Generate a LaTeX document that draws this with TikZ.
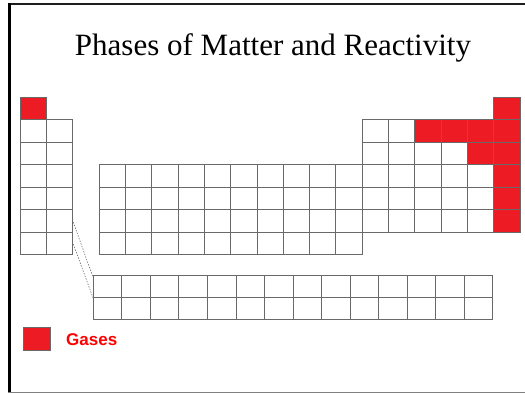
\documentclass[tikz,border=0pt]{standalone}
\usepackage{fontspec}
\setmainfont{Liberation Serif}
\newfontfamily\arialfont{Liberation Sans}
\definecolor{cellgray}{RGB}{105,105,105}
\definecolor{gasred}{RGB}{237,28,36}
\definecolor{textred}{RGB}{255,0,0}
\definecolor{framedark}{RGB}{30,30,30}
\tikzset{
  cellbox/.style={draw=cellgray, line width=0.9pt, fill=white},
  gasbox/.style={draw=cellgray, line width=0.9pt, fill=gasred},
  guide/.style={draw=cellgray, line width=0.6pt, dash pattern=on 1.4pt off 1.4pt},
  titletext/.style={font=\fontsize{31}{36}\selectfont, anchor=base, inner sep=0pt},
  legendtext/.style={font=\arialfont\bfseries\fontsize{17}{20}\selectfont, text=textred, anchor=base west, inner sep=0pt}
}
\begin{document}
\begin{tikzpicture}[x=1pt,y=-1pt]
\useasboundingbox (0,0) rectangle (525,393);
% slide frame
\draw[framedark, line width=2.5pt] (8,4) -- (525,4);
\draw[black, line width=3pt] (9.5,3) -- (9.5,393);
\draw[gray, line width=1pt] (8,392) -- (525,392);
% title
\node[titletext] (title) at (273,55.7) {Phases of Matter and Reactivity};
\def\W{26.3}
\def\H{22.5}
% white cells: position/row
\foreach \r in {2,...,7} {
  \foreach \p in {1,2} {
    \draw[cellbox] ({20.3+(\p-1)*\W},{97.3+(\r-1)*\H}) rectangle ++(\W,\H);
  }
}
\foreach \r in {4,...,7} {
  \foreach \p in {4,...,13} {
    \draw[cellbox] ({20.3+(\p-1)*\W},{97.3+(\r-1)*\H}) rectangle ++(\W,\H);
  }
}
\foreach \r in {4,5,6} {
  \foreach \p in {14,...,18} {
    \draw[cellbox] ({20.3+(\p-1)*\W},{97.3+(\r-1)*\H}) rectangle ++(\W,\H);
  }
}
\foreach \p in {14,15} {
  \draw[cellbox] ({20.3+(\p-1)*\W},{97.3+1*\H}) rectangle ++(\W,\H);
}
\foreach \p in {14,...,17} {
  \draw[cellbox] ({20.3+(\p-1)*\W},{97.3+2*\H}) rectangle ++(\W,\H);
}
% gas cells
\foreach \p/\r in {1/1, 19/1, 16/2, 17/2, 18/2, 19/2, 18/3, 19/3, 19/4, 19/5, 19/6} {
  \draw[gasbox] ({20.3+(\p-1)*\W},{97.3+(\r-1)*\H}) rectangle ++(\W,\H);
}
% lanthanides / actinides
\foreach \r in {0,1} {
  \foreach \c in {0,...,13} {
    \draw[cellbox] ({93.3+\c*28.53},{275+\r*22.2}) rectangle ++(28.53,22.2);
  }
}
% guide lines
\coordinate (d1s) at (72.3,219.5);
\coordinate (d1e) at (93.3,278);
\coordinate (d2s) at (72.3,241.5);
\coordinate (d2e) at (93.3,298.5);
\draw[guide] (d1s) -- (d1e);
\draw[guide] (d2s) -- (d2e);
% legend
\draw[gasbox] (23.3,327.3) rectangle (50,350.5);
\node[legendtext] (gases) at (66,345) {Gases};
\end{tikzpicture}
\end{document}
